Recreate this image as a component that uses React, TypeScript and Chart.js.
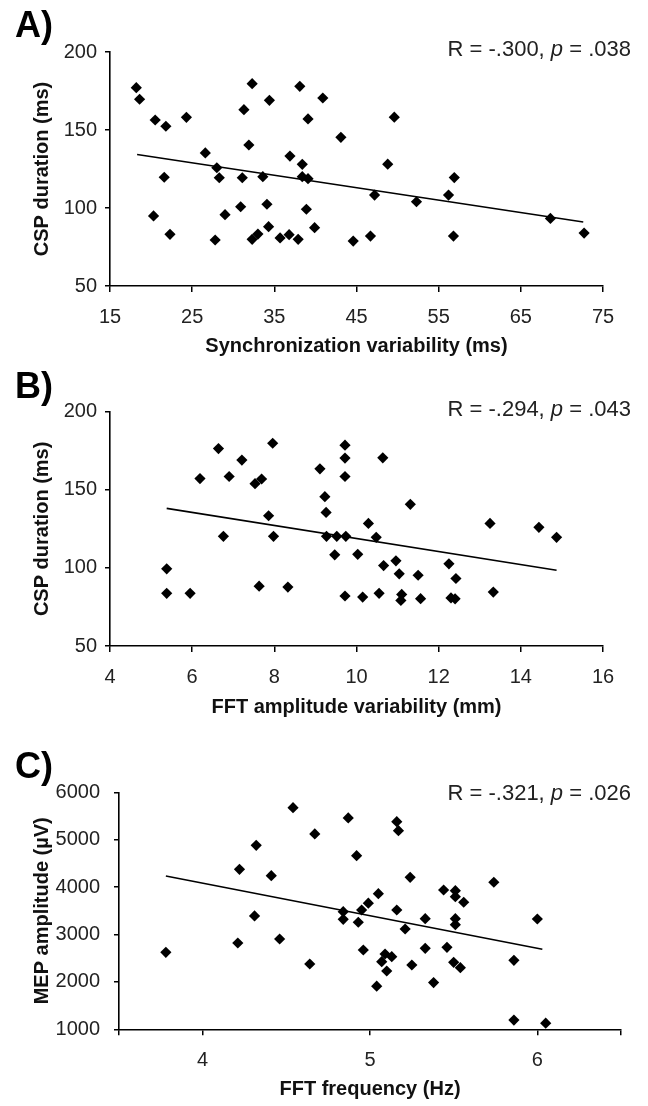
import React, { useEffect, useRef } from 'react';
import { Chart, registerables } from 'chart.js';

Chart.register(...registerables);

// ---------- Panel A: Synchronization variability vs CSP duration ----------
const syncVariability = [18.2, 18.6, 20.5, 21.8, 24.3, 21.6, 20.3, 22.3, 26.6, 28.0, 28.3, 27.8, 29.0, 30.9, 31.1, 31.3, 32.3, 31.9, 32.3, 33.0, 33.6, 34.1, 34.3, 34.4, 35.7, 36.8, 36.9, 37.9, 38.1, 38.4, 38.4, 39.1, 39.1, 38.9, 39.9, 40.9, 43.1, 44.6, 49.6, 48.8, 56.9, 47.2, 52.3, 56.2, 68.6, 72.7, 46.7, 56.8];
const cspDurationA = [177.1, 169.7, 156.4, 152.4, 158.1, 119.7, 94.9, 83.1, 135.3, 125.8, 119.4, 79.5, 95.7, 100.8, 119.4, 163.0, 179.7, 140.4, 79.9, 83.3, 120.1, 102.4, 88.0, 169.0, 80.8, 82.9, 133.3, 79.9, 178.0, 128.0, 120.1, 118.8, 157.1, 99.2, 87.4, 170.5, 145.3, 78.8, 158.2, 128.1, 119.5, 108.3, 104.0, 108.3, 93.3, 83.9, 82.0, 82.0];
const trendAX = [18.3, 72.6];
const trendAY = [134.3, 91.0];
const xTicksA = [15, 25, 35, 45, 55, 65, 75];
const yTicksCsp = [50, 100, 150, 200];

// ---------- Panel B: FFT amplitude variability vs CSP duration ----------
const fftAmpVariability = [5.38, 5.38, 5.95, 6.19, 6.64, 6.90, 6.76, 7.21, 7.53, 7.69, 7.63, 7.86, 7.98, 7.96, 8.33, 9.11, 9.23, 9.26, 9.27, 9.52, 9.74, 9.47, 9.72, 9.72, 9.72, 10.03, 9.72, 10.15, 10.64, 11.31, 10.29, 10.48, 10.66, 10.96, 11.04, 11.50, 12.25, 12.42, 13.25, 14.44, 14.87, 10.55, 11.10, 11.08, 11.56, 12.30, 12.40, 13.33];
const cspDurationB = [99.4, 83.7, 83.7, 157.2, 176.4, 158.5, 120.2, 169.0, 153.9, 156.9, 88.3, 133.4, 120.2, 179.8, 87.7, 163.4, 145.6, 135.5, 120.2, 120.2, 120.2, 108.4, 178.6, 170.3, 158.5, 108.7, 82.0, 81.3, 170.5, 140.7, 128.5, 119.6, 101.5, 104.5, 96.2, 95.3, 102.6, 93.2, 128.5, 126.0, 119.6, 83.7, 83.0, 79.2, 80.3, 80.8, 80.2, 84.5];
const trendBX = [5.38, 14.87];
const trendBY = [138.1, 98.5];
const xTicksB = [4, 6, 8, 10, 12, 14, 16];

// ---------- Panel C: FFT frequency vs MEP amplitude ----------
const fftFrequency = [3.78, 4.22, 4.21, 4.32, 4.31, 4.41, 4.46, 4.54, 4.64, 4.67, 4.87, 4.92, 4.84, 4.84, 4.93, 4.95, 4.96, 4.99, 5.16, 5.17, 5.24, 5.05, 5.16, 5.21, 5.33, 5.44, 5.51, 5.51, 5.56, 5.51, 5.51, 5.74, 6.00, 5.09, 5.13, 5.07, 5.10, 5.25, 5.33, 5.46, 5.50, 5.54, 5.86, 5.04, 5.38, 5.86, 6.05];
const mepAmplitude = [2625, 4376, 2821, 4882, 3391, 4241, 2905, 5676, 2378, 5121, 5459, 4663, 3481, 3321, 3258, 3517, 2673, 3660, 5380, 5190, 4207, 3861, 3517, 3116, 3334, 3939, 3925, 3798, 3680, 3334, 3207, 4102, 3327, 2589, 2532, 2426, 2230, 2357, 2709, 2730, 2414, 2300, 2456, 1910, 1985, 1195, 1130];
const trendCX = [3.78, 6.03];
const trendCY = [4235, 2688];
const xTicksC = [3.5, 4, 5, 6, 6.5];
const xTickHiddenC = [3.5, 6.5];
const yTicksMep = [1000, 2000, 3000, 4000, 5000, 6000];

const FONT = "'Liberation Sans', Arial, Helvetica, sans-serif";

type PanelProps = {
  top: number;
  height: number;
  xs: number[];
  ys: number[];
  tx: number[];
  ty: number[];
  xTicks: number[];
  xHidden?: number[];
  yTicks: number[];
  xTitle: string;
  yTitle: string;
  padTop: number;
  padRight: number;
  leftW: number;
  bottomH: number;
  yTickPad: number;
  xTitlePadBottom: number;
};

function Panel(p: PanelProps) {
  const ref = useRef<HTMLCanvasElement | null>(null);
  useEffect(() => {
    if (!ref.current) return;
    const pts = p.xs.map((x, i) => ({ x, y: p.ys[i] }));
    const line = p.tx.map((x, i) => ({ x, y: p.ty[i] }));
    const hidden = p.xHidden || [];
    const chart = new Chart(ref.current, {
      type: 'scatter',
      data: {
        datasets: [
          {
            data: line,
            showLine: true,
            borderColor: '#000',
            borderWidth: 1.6,
            pointRadius: 0,
            order: 2,
          } as any,
          {
            data: pts,
            pointStyle: 'rectRot',
            pointRadius: 5.6,
            backgroundColor: '#000',
            borderColor: '#000',
            borderWidth: 0,
            order: 1,
          } as any,
        ],
      },
      options: {
        animation: false,
        responsive: false,
        devicePixelRatio: 1,
        events: [],
        layout: { padding: { top: p.padTop, right: p.padRight, left: 0, bottom: 0 } },
        plugins: { legend: { display: false }, tooltip: { enabled: false } },
        scales: {
          x: {
            type: 'linear',
            min: p.xTicks[0],
            max: p.xTicks[p.xTicks.length - 1],
            afterBuildTicks: (s: any) => {
              s.ticks = p.xTicks.map((v) => ({ value: v }));
            },
            afterFit: (s: any) => {
              s.height = p.bottomH;
            },
            ticks: {
              autoSkip: false,
              maxRotation: 0,
              padding: 13,
              color: '#222',
              font: { family: FONT, size: 20 },
              callback: (v: any) => (hidden.includes(Number(v)) ? '' : String(v)),
            },
            grid: { drawOnChartArea: false, drawTicks: true, tickLength: 6, color: '#000', lineWidth: 1.5 },
            border: { display: true, color: '#000', width: 1.6 },
            title: {
              display: true,
              text: p.xTitle,
              color: '#111',
              font: { family: FONT, size: 20, weight: 'bold' },
              padding: { top: 0, bottom: p.xTitlePadBottom },
            },
          },
          y: {
            type: 'linear',
            min: p.yTicks[0],
            max: p.yTicks[p.yTicks.length - 1],
            afterBuildTicks: (s: any) => {
              s.ticks = p.yTicks.map((v) => ({ value: v }));
            },
            afterFit: (s: any) => {
              s.width = p.leftW;
            },
            ticks: {
              autoSkip: false,
              padding: p.yTickPad,
              color: '#222',
              font: { family: FONT, size: 20 },
              callback: (v: any) => String(v),
            },
            grid: { drawOnChartArea: false, drawTicks: true, tickLength: 5, color: '#000', lineWidth: 1.5 },
            border: { display: true, color: '#000', width: 1.6 },
            title: {
              display: true,
              text: p.yTitle,
              color: '#111',
              font: { family: FONT, size: 20, weight: 'bold' },
              padding: { top: 30, bottom: 0 },
            },
          },
        },
      } as any,
    });
    return () => chart.destroy();
  }, []);
  return (
    <canvas
      ref={ref}
      width={648}
      height={p.height}
      style={{ position: 'absolute', left: 0, top: p.top, width: 648, height: p.height, display: 'block' }}
    />
  );
}

const letterStyle = (top: number): React.CSSProperties => ({
  position: 'absolute',
  left: 15,
  top,
  fontFamily: FONT,
  fontWeight: 'bold',
  fontSize: 36,
  lineHeight: '36px',
  color: '#000',
  whiteSpace: 'nowrap',
});

const statStyle = (top: number): React.CSSProperties => ({
  position: 'absolute',
  left: 0,
  width: 631,
  top,
  textAlign: 'right',
  fontFamily: FONT,
  fontSize: 22,
  lineHeight: '22px',
  color: '#222',
  whiteSpace: 'pre',
});

function Stat({ top, r, pv }: { top: number; r: string; pv: string }) {
  return (
    <div style={statStyle(top)}>
      {`R = ${r}, `}
      <i>p</i>
      {` = ${pv}`}
    </div>
  );
}

export default function App() {
  return (
    <div style={{ position: 'absolute', left: 0, top: 0, width: 648, height: 1106, background: '#fff', overflow: 'hidden' }}>
      <Panel
        top={0}
        height={360}
        xs={syncVariability}
        ys={cspDurationA}
        tx={trendAX}
        ty={trendAY}
        xTicks={xTicksA}
        yTicks={yTicksCsp}
        xTitle="Synchronization variability (ms)"
        yTitle="CSP duration (ms)"
        padTop={52}
        padRight={45}
        leftW={110}
        bottomH={74}
        yTickPad={8}
        xTitlePadBottom={1.5}
      />
      <Panel
        top={360}
        height={360}
        xs={fftAmpVariability}
        ys={cspDurationB}
        tx={trendBX}
        ty={trendBY}
        xTicks={xTicksB}
        yTicks={yTicksCsp}
        xTitle="FFT amplitude variability (mm)"
        yTitle="CSP duration (ms)"
        padTop={51.7}
        padRight={45}
        leftW={110}
        bottomH={74}
        yTickPad={8}
        xTitlePadBottom={1}
      />
      <Panel
        top={720}
        height={386}
        xs={fftFrequency}
        ys={mepAmplitude}
        tx={trendCX}
        ty={trendCY}
        xTicks={xTicksC}
        xHidden={xTickHiddenC}
        yTicks={yTicksMep}
        xTitle="FFT frequency (Hz)"
        yTitle="MEP amplitude (µV)"
        padTop={72.3}
        padRight={27}
        leftW={119}
        bottomH={76.7}
        yTickPad={14}
        xTitlePadBottom={5}
      />
      <div style={letterStyle(7)}>A)</div>
      <div style={letterStyle(368)}>B)</div>
      <div style={letterStyle(748)}>C)</div>
      <Stat top={37.7} r="-.300" pv=".038" />
      <Stat top={397.7} r="-.294" pv=".043" />
      <Stat top={782.4} r="-.321" pv=".026" />
    </div>
  );
}
